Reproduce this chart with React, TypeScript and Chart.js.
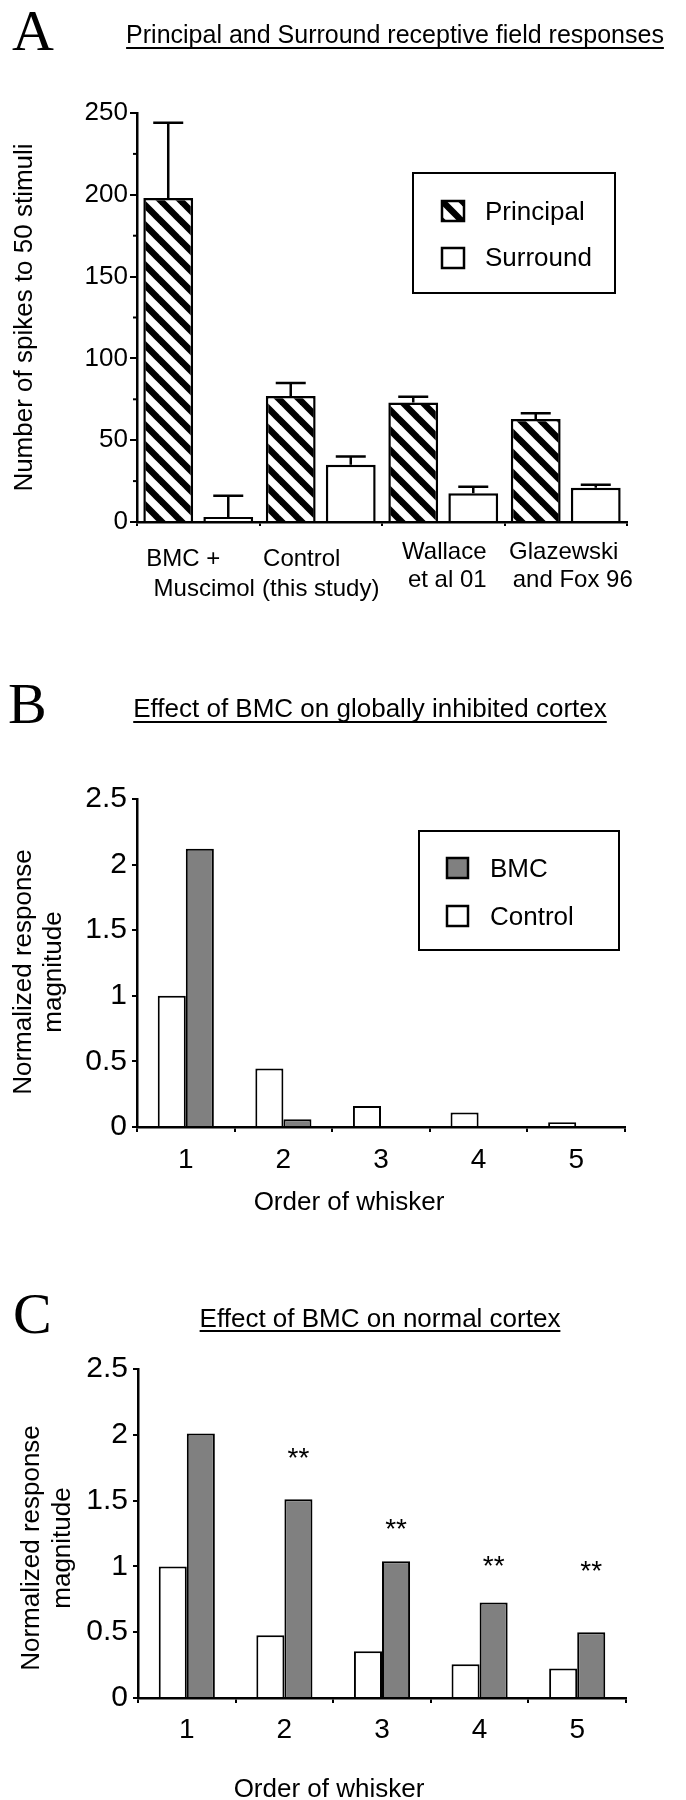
import React, { useEffect, useRef } from 'react';
import { Chart, registerables } from 'chart.js';

Chart.register(...registerables);

const SANS = '"Liberation Sans", Arial, Helvetica, sans-serif';
const SERIF = '"Liberation Serif", "Times New Roman", Times, serif';

// ---------- Panel A data ----------
const panelTitleA = 'Principal and Surround receptive field responses';
const yAxisTitleA = 'Number of spikes to 50 stimuli';
const groupLabelsA: string[][] = [
  ['BMC +', 'Muscimol'],
  ['Control', '(this study)'],
  ['Wallace', 'et al 01'],
  ['Glazewski', 'and Fox 96'],
];
const seriesNamesA = ['Principal', 'Surround'];
const principalValues = [198, 77, 73, 63];
const principalErrors = [46, 8, 3.5, 3.5];
const surroundValues = [3, 35, 17.5, 21];
const surroundErrors = [13, 5, 4, 1.8];

// ---------- Panel B data ----------
const panelTitleB = 'Effect of BMC on globally inhibited cortex';
const whiskerOrder = ['1', '2', '3', '4', '5'];
const seriesNamesBC = ['Control', 'BMC'];
const controlGlobal = [1.0, 0.445, 0.16, 0.11, 0.037];
const bmcGlobal = [2.12, 0.06, 0, 0, 0];

// ---------- Panel C data ----------
const panelTitleC = 'Effect of BMC on normal cortex';
const controlNormal = [1.0, 0.477, 0.355, 0.256, 0.224];
const bmcNormal = [2.01, 1.51, 1.04, 0.725, 0.5];
const significanceMarks = ['', '**', '**', '**', '**'];
const significanceLevels = [0, 1.88, 1.34, 1.06, 1.02];

const xAxisTitleBC = 'Order of whisker';
const yAxisTitleBC = ['Normalized response', 'magnitude'];

const BMC_GRAY = '#808080';
const Y_BOX = 100; // fixed width given to every y scale box
const X_BOX = 60; // fixed height given to the B/C x scale boxes

function hatchPattern(ctx: CanvasRenderingContext2D): CanvasPattern {
  const t = document.createElement('canvas');
  t.width = 20;
  t.height = 20;
  const c = t.getContext('2d')!;
  c.fillStyle = '#fff';
  c.fillRect(0, 0, 20, 20);
  c.strokeStyle = '#000';
  c.lineWidth = 6.5;
  for (const k of [-20, 0, 20]) {
    c.beginPath();
    c.moveTo(k - 4, -4);
    c.lineTo(k + 24, 24);
    c.stroke();
  }
  return ctx.createPattern(t, 'repeat')!;
}

function drawHeader(
  ctx: CanvasRenderingContext2D,
  letter: string,
  letterX: number,
  letterBase: number,
  title: string,
  titleCX: number,
  titleBase: number,
  underlineY: number,
  titleSize: number
) {
  ctx.save();
  ctx.fillStyle = '#000';
  ctx.font = `58px ${SERIF}`;
  ctx.textAlign = 'left';
  ctx.textBaseline = 'alphabetic';
  ctx.fillText(letter, letterX, letterBase);
  ctx.font = `${titleSize}px ${SANS}`;
  ctx.textAlign = 'center';
  ctx.fillText(title, titleCX, titleBase);
  const w = ctx.measureText(title).width;
  ctx.fillRect(titleCX - w / 2, underlineY, w, 2);
  ctx.restore();
}

function drawRotated(
  ctx: CanvasRenderingContext2D,
  lines: string[],
  baseX: number,
  cy: number,
  gap: number,
  size: number
) {
  ctx.save();
  ctx.font = `${size}px ${SANS}`;
  ctx.fillStyle = '#000';
  ctx.textAlign = 'center';
  ctx.textBaseline = 'alphabetic';
  lines.forEach((l, i) => {
    ctx.save();
    ctx.translate(baseX + i * gap, cy);
    ctx.rotate(-Math.PI / 2);
    ctx.fillText(l, 0, 0);
    ctx.restore();
  });
  ctx.restore();
}

type LegendItem = {
  label: string;
  fill: string | CanvasPattern;
  sx: number;
  sy: number;
  sw: number;
  sh: number;
  tx: number;
  ty: number;
};

function drawLegend(
  ctx: CanvasRenderingContext2D,
  box: [number, number, number, number],
  items: LegendItem[]
) {
  ctx.save();
  ctx.fillStyle = '#fff';
  ctx.fillRect(box[0], box[1], box[2], box[3]);
  ctx.strokeStyle = '#000';
  ctx.lineWidth = 2;
  ctx.strokeRect(box[0], box[1], box[2], box[3]);
  items.forEach((it) => {
    ctx.save();
    ctx.translate(it.sx, it.sy);
    ctx.fillStyle = it.fill as any;
    ctx.fillRect(0, 0, it.sw, it.sh);
    ctx.lineWidth = 2.5;
    ctx.strokeStyle = '#000';
    ctx.strokeRect(0, 0, it.sw, it.sh);
    ctx.restore();
    ctx.fillStyle = '#000';
    ctx.font = `26px ${SANS}`;
    ctx.textAlign = 'left';
    ctx.textBaseline = 'alphabetic';
    ctx.fillText(it.label, it.tx, it.ty + 26 * 0.36);
  });
  ctx.restore();
}

function centeredText(
  ctx: CanvasRenderingContext2D,
  s: string,
  cx: number,
  cy: number,
  size: number
) {
  ctx.save();
  ctx.fillStyle = '#000';
  ctx.font = `${size}px ${SANS}`;
  ctx.textAlign = 'center';
  ctx.textBaseline = 'alphabetic';
  ctx.fillText(s, cx, cy + size * 0.36);
  ctx.restore();
}

const axisLine = { display: true, color: '#000', width: 2.5 };
const plainNumber = (v: number | string) => String(Number(v));

function makeChartA(canvas: HTMLCanvasElement) {
  const ctx = canvas.getContext('2d')!;
  const hatch = hatchPattern(ctx);
  const lineOffsets = [
    [-15, 6],
    [-19, 0],
    [1, 4],
    [-2, 7],
  ];
  const lineRows = [
    [35, 65],
    [35, 65],
    [28, 56],
    [28, 56],
  ];
  const decor = {
    id: 'decorA',
    afterDatasetsDraw(chart: any) {
      const c = chart.ctx as CanvasRenderingContext2D;
      const y = chart.scales.y;
      c.save();
      c.strokeStyle = '#000';
      c.lineWidth = 2.5;
      [principalErrors, surroundErrors].forEach((errs, di) => {
        const meta = chart.getDatasetMeta(di);
        const vals = chart.data.datasets[di].data as number[];
        meta.data.forEach((bar: any, i: number) => {
          const x = bar.x;
          const y0 = y.getPixelForValue(vals[i]);
          const y1 = y.getPixelForValue(vals[i] + errs[i]);
          c.beginPath();
          c.moveTo(x, y0);
          c.lineTo(x, y1);
          c.moveTo(x - 15, y1);
          c.lineTo(x + 15, y1);
          c.stroke();
        });
      });
      c.restore();
    },
    afterDraw(chart: any) {
      const c = chart.ctx as CanvasRenderingContext2D;
      const { left, bottom } = chart.chartArea;
      const y = chart.scales.y;
      const x = chart.scales.x;
      drawHeader(c, 'A', 12, 50, panelTitleA, 395, 43, 47, 25);
      drawRotated(c, [yAxisTitleA], 32, (chart.chartArea.top + bottom) / 2, 30, 26);
      // minor ticks
      c.save();
      c.strokeStyle = '#000';
      c.lineWidth = 2;
      for (let v = 25; v < 250; v += 50) {
        const py = y.getPixelForValue(v);
        c.beginPath();
        c.moveTo(left - 4, py);
        c.lineTo(left, py);
        c.stroke();
      }
      c.restore();
      groupLabelsA.forEach((lines, i) => {
        const cx = x.getPixelForValue(i);
        lines.forEach((l, j) => {
          centeredText(c, l, cx + lineOffsets[i][j], bottom + lineRows[i][j], 24);
        });
      });
      drawLegend(c, [413, 173, 202, 120], [
        { label: seriesNamesA[0], fill: hatch, sx: 442, sy: 201, sw: 22, sh: 20, tx: 485, ty: 211 },
        { label: seriesNamesA[1], fill: '#fff', sx: 442, sy: 248, sw: 22, sh: 20, tx: 485, ty: 257 },
      ]);
    },
  };
  return new Chart(canvas, {
    type: 'bar',
    data: {
      labels: groupLabelsA.map((l) => l.join(' ')),
      datasets: [
        {
          label: seriesNamesA[0],
          data: principalValues,
          backgroundColor: hatch,
          borderColor: '#000',
          borderWidth: 2.5,
          categoryPercentage: 0.98,
          barPercentage: 0.83,
        },
        {
          label: seriesNamesA[1],
          data: surroundValues,
          backgroundColor: '#fff',
          borderColor: '#000',
          borderWidth: 2.5,
          categoryPercentage: 0.98,
          barPercentage: 0.83,
        },
      ],
    },
    options: {
      responsive: false,
      animation: false,
      events: [],
      layout: { padding: { left: 137 - Y_BOX, right: 59, top: 113, bottom: 98 } },
      plugins: { legend: { display: false }, tooltip: { enabled: false }, title: { display: false } },
      scales: {
        x: {
          grid: { offset: true, drawOnChartArea: false, drawTicks: true, tickLength: 4, color: '#000', lineWidth: 2 },
          border: axisLine,
          ticks: { display: false },
          afterFit: (s: any) => {
            s.height = 0;
          },
        },
        y: {
          min: 0,
          max: 250,
          ticks: { stepSize: 50, color: '#000', padding: 2, font: { family: SANS, size: 26 }, callback: plainNumber },
          grid: { drawOnChartArea: false, tickLength: 7, color: '#000', lineWidth: 2 },
          border: axisLine,
          afterFit: (s: any) => {
            s.width = Y_BOX;
          },
        },
      },
    },
    plugins: [decor],
  } as any);
}

type WhiskerOpts = {
  letter: string;
  letterX: number;
  letterBase: number;
  title: string;
  titleCX: number;
  titleBase: number;
  underlineY: number;
  control: number[];
  bmc: number[];
  padding: { left: number; right: number; top: number; bottom: number };
  xPad: number;
  yTitleX: number;
  yTitleGap: number;
  yTitleCY: number;
  xTitleCX: number;
  xTitleCY: number;
  legend: boolean;
  marks: boolean;
};

function makeWhiskerChart(canvas: HTMLCanvasElement, o: WhiskerOpts) {
  const decor = {
    id: 'decor' + o.letter,
    afterDraw(chart: any) {
      const c = chart.ctx as CanvasRenderingContext2D;
      const y = chart.scales.y;
      drawHeader(c, o.letter, o.letterX, o.letterBase, o.title, o.titleCX, o.titleBase, o.underlineY, 26);
      drawRotated(c, yAxisTitleBC, o.yTitleX, o.yTitleCY, o.yTitleGap, 26);
      centeredText(c, xAxisTitleBC, o.xTitleCX, o.xTitleCY, 26);
      if (o.legend) {
        drawLegend(c, [419, 211, 200, 119], [
          { label: seriesNamesBC[1], fill: BMC_GRAY, sx: 447, sy: 238, sw: 21, sh: 20, tx: 490, ty: 248 },
          { label: seriesNamesBC[0], fill: '#fff', sx: 447, sy: 286, sw: 21, sh: 20, tx: 490, ty: 296 },
        ]);
      }
      if (o.marks) {
        const meta = chart.getDatasetMeta(1);
        c.save();
        c.fillStyle = '#000';
        c.font = `28px ${SANS}`;
        c.textAlign = 'center';
        c.textBaseline = 'alphabetic';
        significanceMarks.forEach((m, i) => {
          if (!m) return;
          const px = meta.data[i].x;
          const py = y.getPixelForValue(significanceLevels[i]);
          c.fillText(m, px, py + 16);
        });
        c.restore();
      }
    },
  };
  return new Chart(canvas, {
    type: 'bar',
    data: {
      labels: whiskerOrder,
      datasets: [
        {
          label: seriesNamesBC[0],
          data: o.control,
          backgroundColor: '#fff',
          borderColor: '#000',
          borderWidth: 2,
          categoryPercentage: 0.575,
          barPercentage: 1.0,
        },
        {
          label: seriesNamesBC[1],
          data: o.bmc,
          backgroundColor: BMC_GRAY,
          borderColor: '#000',
          borderWidth: 2,
          categoryPercentage: 0.575,
          barPercentage: 1.0,
        },
      ],
    },
    options: {
      responsive: false,
      animation: false,
      events: [],
      layout: { padding: o.padding },
      plugins: { legend: { display: false }, tooltip: { enabled: false }, title: { display: false } },
      scales: {
        x: {
          grid: { offset: true, drawOnChartArea: false, drawTicks: true, tickLength: 5, color: '#000', lineWidth: 2 },
          border: axisLine,
          ticks: { color: '#000', padding: o.xPad, maxRotation: 0, font: { family: SANS, size: 28 } },
          afterFit: (s: any) => {
            s.height = X_BOX;
          },
        },
        y: {
          min: 0,
          max: 2.5,
          ticks: { stepSize: 0.5, color: '#000', padding: 5, font: { family: SANS, size: 30 }, callback: plainNumber },
          grid: { drawOnChartArea: false, tickLength: 5, color: '#000', lineWidth: 2 },
          border: axisLine,
          afterFit: (s: any) => {
            s.width = Y_BOX;
          },
        },
      },
    },
    plugins: [decor],
  } as any);
}

export default function App() {
  const refA = useRef<HTMLCanvasElement>(null);
  const refB = useRef<HTMLCanvasElement>(null);
  const refC = useRef<HTMLCanvasElement>(null);

  useEffect(() => {
    Chart.defaults.font.family = SANS;
    Chart.defaults.color = '#000';
    const a = makeChartA(refA.current!);
    const b = makeWhiskerChart(refB.current!, {
      letter: 'B',
      letterX: 8,
      letterBase: 103,
      title: panelTitleB,
      titleCX: 370,
      titleBase: 97,
      underlineY: 101,
      control: controlGlobal,
      bmc: bmcGlobal,
      padding: { left: 137 - Y_BOX, right: 61, top: 179, bottom: 93 - X_BOX },
      xPad: 11,
      yTitleX: 31,
      yTitleGap: 30,
      yTitleCY: 352,
      xTitleCX: 349,
      xTitleCY: 581,
      legend: true,
      marks: false,
    });
    const c = makeWhiskerChart(refC.current!, {
      letter: 'C',
      letterX: 13,
      letterBase: 113,
      title: panelTitleC,
      titleCX: 380,
      titleBase: 107,
      underlineY: 110,
      control: controlNormal,
      bmc: bmcNormal,
      padding: { left: 138 - Y_BOX, right: 60, top: 149, bottom: 102 - X_BOX },
      xPad: 10,
      yTitleX: 39,
      yTitleGap: 31,
      yTitleCY: 328,
      xTitleCX: 329,
      xTitleCY: 568,
      legend: false,
      marks: true,
    });
    return () => {
      a.destroy();
      b.destroy();
      c.destroy();
    };
  }, []);

  const cs = (top: number, h: number): React.CSSProperties => ({
    position: 'absolute',
    left: 0,
    top,
    width: 686,
    height: h,
    display: 'block',
  });

  return (
    <div style={{ position: 'absolute', left: 0, top: 0, width: 686, height: 1800, background: '#fff' }}>
      <canvas ref={refA} width={686} height={620} style={cs(0, 620)} />
      <canvas ref={refB} width={686} height={600} style={cs(620, 600)} />
      <canvas ref={refC} width={686} height={580} style={cs(1220, 580)} />
    </div>
  );
}
